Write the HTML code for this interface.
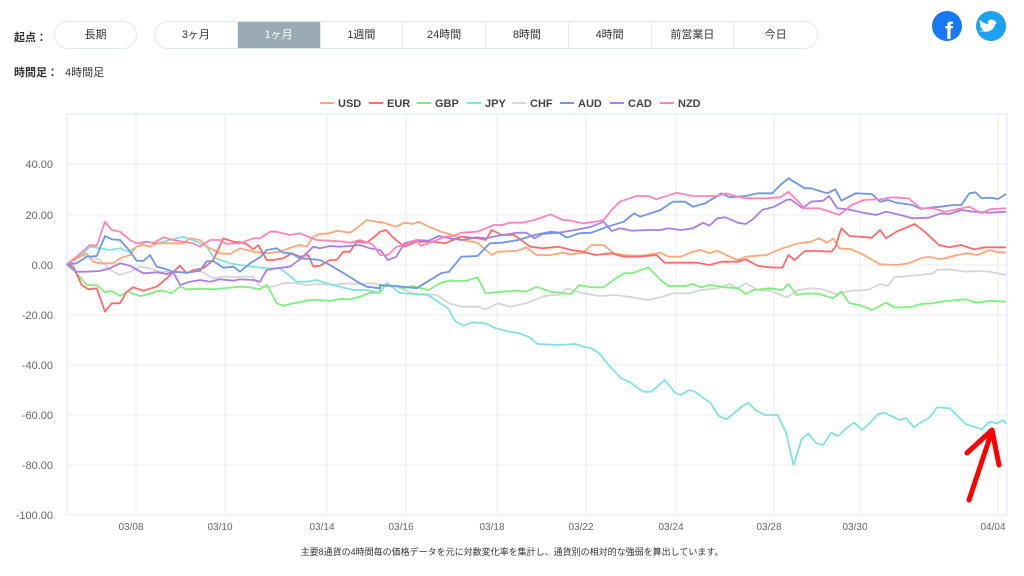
<!DOCTYPE html>
<html><head><meta charset="utf-8">
<style>
body{margin:0;width:1024px;height:576px;background:#fff;font-family:"Liberation Sans","Noto Sans CJK JP",sans-serif;overflow:hidden;position:relative;color:#333}
.lbl{position:absolute;font-size:11px;font-weight:bold;color:#333}
.pill{position:absolute;top:21px;height:28px;border:1px solid #dfe9eb;border-radius:15px;box-sizing:border-box;display:flex;overflow:hidden;background:#fff}
.pill div{width:83px;text-align:center;line-height:26px;font-size:11px;color:#333;border-right:1px solid #e3ecee;box-sizing:border-box}
.pill div:last-child{border-right:none}
.pill .act{background:#9aabb4;color:#fff}
</style></head><body>
<div class="lbl" style="left:14px;top:29px">起点：</div>
<div class="pill" style="left:54px;width:83px"><div>長期</div></div>
<div class="pill" style="left:154px;width:664px"><div>3ヶ月</div><div class="act">1ヶ月</div><div>1週間</div><div>24時間</div><div>8時間</div><div>4時間</div><div>前営業日</div><div>今日</div></div>
<div class="lbl" style="left:14px;top:64px">時間足：</div>
<div class="lbl" style="left:65px;top:64px;font-weight:normal">4時間足</div>
<svg width="1024" height="576" style="position:absolute;left:0;top:0" id="s">
<circle cx="947" cy="26" r="15" fill="#1877f2"/>
<text x="949" y="39" font-size="24" font-weight="bold" fill="#fff" text-anchor="middle" font-family="Liberation Sans">f</text>
<circle cx="991" cy="26" r="15" fill="#1da1f2"/>
<path d="M982 31c5 2 11 0 13-6l2-3-2 0 1-2-2 1c-2-3-7-1-6 3-3 0-6-2-8-4-1 2 0 4 1 5h-1c0 2 1 3 3 4h-2c1 1 2 2 3 2-2 1-3 1-5 1z" fill="#fff"/>
<g font-size="11" font-weight="bold" fill="#444">
<line x1="320" y1="103" x2="334" y2="103" stroke="#ffa776" stroke-width="2"/><text x="338" y="107">USD</text>
<line x1="369" y1="103" x2="383" y2="103" stroke="#ff6b6b" stroke-width="2"/><text x="387" y="107">EUR</text>
<line x1="417" y1="103" x2="431" y2="103" stroke="#7ef07e" stroke-width="2"/><text x="435" y="107">GBP</text>
<line x1="467" y1="103" x2="481" y2="103" stroke="#80e4dc" stroke-width="2"/><text x="485" y="107">JPY</text>
<line x1="512" y1="103" x2="526" y2="103" stroke="#d6d6d6" stroke-width="2"/><text x="530" y="107">CHF</text>
<line x1="560" y1="103" x2="574" y2="103" stroke="#6f96e8" stroke-width="2"/><text x="578" y="107">AUD</text>
<line x1="610" y1="103" x2="624" y2="103" stroke="#a97fe8" stroke-width="2"/><text x="628" y="107">CAD</text>
<line x1="660" y1="103" x2="674" y2="103" stroke="#ff85b8" stroke-width="2"/><text x="678" y="107">NZD</text>
</g>
<g id="grid" stroke="#ebebeb" stroke-width="1"></g>
<rect x="67" y="114" width="940" height="401" fill="none" stroke="#e8eef8" stroke-width="1.5"/>
<g id="yl" font-size="11" fill="#666" text-anchor="end"></g>
<g id="xl" font-size="10" fill="#666" text-anchor="middle"></g>
<g id="lines" fill="none" stroke-width="1.8" stroke-linejoin="round"></g>
<g stroke="#ff0000" stroke-width="5" stroke-linecap="round" fill="none" stroke-linejoin="round">
<line x1="969" y1="500" x2="992" y2="431"/><polyline points="967,453 992,430 999,465"/></g>
<text x="512" y="555" font-size="9" fill="#333" text-anchor="middle">主要8通貨の4時間毎の価格データを元に対数変化率を集計し、通貨別の相対的な強弱を算出しています。</text>
</svg>
<script>
var NS="http://www.w3.org/2000/svg";
function el(p,t,a,txt){var e=document.createElementNS(NS,t);for(var k in a)e.setAttribute(k,a[k]);if(txt)e.textContent=txt;document.getElementById(p).appendChild(e);}
var ys=[[60,114],[40,164],[20,215],[0,265],[-20,315],[-40,365],[-60,415],[-80,465],[-100,515]];
ys.forEach(function(v){el("grid","line",{x1:67,x2:1007,y1:v[1],y2:v[1]});if(v[0]<60)el("yl","text",{x:53,y:v[1]+4},v[0].toFixed(2));});
var xs=[[136,"03/08"],[225,"03/10"],[327,"03/14"],[406,"03/16"],[497,"03/18"],[586,"03/22"],[676,"03/24"],[774,"03/28"],[860,"03/30"],[998,"04/04"]];
xs.forEach(function(v){el("grid","line",{x1:v[0],x2:v[0],y1:114,y2:515});el("xl","text",{x:v[0]-5,y:530},v[1]);});
function L(a){var r=[];for(var i=0;i<a.length;i+=2){if(a[i]<=1140)r.push([a[i]/3,100+a[i+1]/3]);}return r;}
function R(a){var r=[];for(var i=0;i<a.length;i+=2)r.push([380+a[i]/2.46,160+a[i+1]/3]);return r;}
function R5(a){var r=[];for(var i=0;i<a.length;i+=2)r.push([Math.min(1006,400+a[i]/2.51),280+a[i+1]/3]);return r;}
var S=[
["#d6d6d6",L([200,493,240,465,270,470,300,480,330,510,360,525,390,515,420,500,450,505,480,515,520,515,560,518,600,512,640,535,670,530,700,532,720,530,760,530,780,560,820,560,850,550,880,548,920,555,960,552,1000,555,1040,550,1080,552,1120,550]).concat(R([0,375,40,380,80,400,110,402,140,405,170,430,200,440,240,440,260,448,290,430,320,440,360,430,400,410,420,405,440,405,460,385,500,400,540,408,580,405,620,412,660,420,700,408,720,400,760,400,790,390,830,385,860,372,880,385,900,370,930,390,960,392,1000,412,1030,390,1060,385,1090,388,1120,402,1160,392,1200,390,1230,372,1250,378,1265,352,1300,348,1330,345,1360,340,1370,330,1400,328,1440,335,1470,333,1500,335,1540,345]))],
["#80e4dc",L([200,493,240,470,270,440,300,445,330,450,360,445,385,455,410,440,440,425,470,430,510,420,550,410,590,425,620,440,640,470,660,480,690,490,720,495,760,500,800,505,840,505,860,520,890,545,920,545,950,540,980,550,1020,560,1060,570,1100,570,1140,578]).concat([[387,283],[400,293]]).concat(R5([70,45,120,85,140,125,160,137,180,127,215,130,240,145,275,155,300,160,325,172,345,192,400,195,440,192,460,200,480,205,500,220,520,250,555,295,575,305,610,335,630,335,665,300,690,338,705,345,725,330,740,335,780,370,800,408,820,418,860,378,875,368,890,388,915,405,948,405,968,455,988,555,1008,478,1025,460,1045,490,1062,495,1082,458,1100,468,1125,440,1140,428,1160,450,1180,428,1200,402,1215,398,1240,412,1255,420,1270,414,1290,442,1310,425,1330,412,1348,382,1380,385,1420,432,1460,448,1480,425,1498,430,1515,420,1535,432]))],
["#7ef07e",L([200,493,230,520,260,555,290,555,315,577,335,573,360,588,385,575,420,588,450,582,470,573,490,572,515,580,540,560,560,568,600,566,640,568,680,564,720,560,750,562,780,568,800,555,820,590,830,610,850,617,880,610,900,607,930,600,960,600,990,603,1020,597,1050,598,1080,590,1110,578,1140,578]).concat(R([0,378,40,378,60,385,80,378,100,385,120,390,150,368,170,362,210,363,240,352,260,400,300,395,340,392,360,395,385,380,420,395,440,398,470,402,490,375,520,382,550,382,580,355,600,340,620,340,660,322,690,360,710,378,750,378,770,372,790,382,810,375,850,382,880,385,900,402,920,390,960,385,990,390,1005,372,1025,405,1050,400,1080,402,1115,415,1135,395,1155,430,1180,435,1210,450,1245,428,1265,442,1290,442,1310,440,1330,432,1360,430,1380,425,1420,420,1440,418,1470,428,1500,422,1540,425]))],
["#ffa776",L([200,493,230,475,260,460,280,485,300,490,340,490,360,475,390,465,410,440,430,435,450,440,470,430,510,430,550,430,570,415,600,420,620,440,660,460,690,462,720,445,760,455,800,460,840,455,880,440,900,435,920,440,940,410,960,402,990,400,1010,392,1050,398,1070,385,1100,360,1130,365,1140,368]).concat(R([0,185,40,200,60,188,80,192,95,185,120,200,150,215,180,225,200,240,240,248,275,285,290,275,340,272,360,262,385,285,420,285,450,278,470,283,500,278,520,255,550,255,575,280,600,285,640,288,690,278,710,290,740,290,770,275,790,270,810,280,830,272,860,290,880,300,900,290,950,285,990,265,1030,250,1060,245,1080,235,1100,248,1115,235,1130,265,1160,268,1190,285,1230,313,1270,315,1300,310,1330,295,1350,290,1380,298,1420,285,1445,280,1470,285,1500,270,1520,277,1540,277]))],
["#ff6b6b",L([200,493,220,500,245,555,265,568,290,565,315,635,335,610,360,610,380,575,400,562,430,572,470,560,500,535,540,497,560,520,580,510,610,505,640,480,670,415,700,425,720,427,740,432,760,448,775,435,800,480,820,480,850,475,875,460,900,470,925,465,940,500,960,497,990,480,1010,480,1030,455,1050,455,1070,425,1100,428,1130,405]).concat(R([0,215,15,210,30,230,60,260,90,245,130,245,160,250,200,230,240,235,260,240,275,210,300,225,330,225,370,260,400,265,440,260,470,270,500,275,530,285,570,280,600,290,640,290,680,285,700,308,740,308,780,308,810,315,840,305,880,305,900,298,930,318,960,322,990,323,1005,285,1020,300,1045,273,1080,273,1110,275,1120,262,1135,205,1155,228,1180,230,1210,233,1230,210,1245,235,1270,215,1300,200,1315,192,1340,215,1375,255,1400,262,1430,255,1460,268,1490,262,1540,262]))],
["#a97fe8",L([200,493,230,515,260,515,300,513,330,505,360,490,390,497,430,520,470,517,500,522,520,517,540,555,570,545,600,540,630,545,660,538,700,542,720,538,760,540,780,545,800,510,830,505,870,500,900,478,940,440,960,445,990,438,1020,440,1050,438,1080,435,1110,445,1140,450]).concat(R([0,270,20,300,40,290,60,250,90,240,120,242,145,228,170,235,200,240,240,232,260,235,300,225,340,218,360,218,380,235,400,222,440,218,480,210,520,200,550,185,570,213,590,205,620,212,660,210,690,210,710,205,740,210,770,205,795,188,810,197,830,175,850,172,880,188,900,192,920,175,940,150,970,140,1000,120,1010,118,1040,145,1060,125,1090,122,1105,108,1125,145,1150,148,1190,158,1220,165,1245,155,1280,165,1310,175,1350,173,1380,160,1400,162,1430,150,1460,155,1500,158,1540,155]))],
["#6f96e8",L([200,493,230,490,260,470,290,468,315,408,335,418,360,420,385,448,410,482,430,483,450,465,470,500,490,505,520,515,560,518,600,512,620,484,640,483,670,503,700,500,720,515,750,490,780,472,800,450,830,445,850,458,875,460,900,475,930,477,960,480,990,495,1040,525,1080,550,1100,560,1140,565]).concat(R([0,375,40,378,90,385,150,340,170,335,200,290,240,288,270,250,300,248,340,240,380,225,420,215,440,218,460,233,490,220,520,218,560,200,600,185,625,160,640,170,690,150,720,125,750,125,770,140,800,130,840,100,860,112,900,108,930,100,965,100,985,75,1005,55,1045,85,1060,85,1100,100,1120,88,1135,122,1170,100,1210,102,1230,125,1250,120,1270,128,1310,135,1330,147,1360,142,1380,140,1410,135,1430,135,1450,100,1465,97,1480,115,1500,113,1520,117,1540,102]))],
["#ff85b8",L([200,493,230,470,270,435,290,437,315,365,335,390,360,395,390,420,410,430,440,425,460,430,490,412,520,420,550,425,580,430,600,440,630,420,660,420,680,432,700,430,720,430,760,415,780,415,810,395,830,395,870,405,900,400,920,408,950,420,990,422,1030,425,1050,428,1080,420,1110,430,1120,435]).concat(R([0,285,20,285,40,260,60,255,90,240,100,258,130,245,160,230,180,228,200,218,240,215,280,195,300,195,320,188,350,188,380,180,420,163,450,180,470,182,500,190,530,185,550,180,570,150,590,125,630,108,660,108,680,118,730,98,770,108,800,108,830,108,850,100,880,110,900,115,950,115,985,112,1005,95,1045,145,1080,145,1100,152,1130,165,1160,135,1190,120,1230,118,1260,112,1300,115,1330,145,1360,145,1390,155,1420,148,1450,140,1480,160,1500,148,1540,145]))]
];
S.forEach(function(s){el("lines","polyline",{stroke:s[0],points:s[1].map(function(p){return p[0].toFixed(1)+","+p[1].toFixed(1)}).join(" ")});});
</script>
</body></html>
